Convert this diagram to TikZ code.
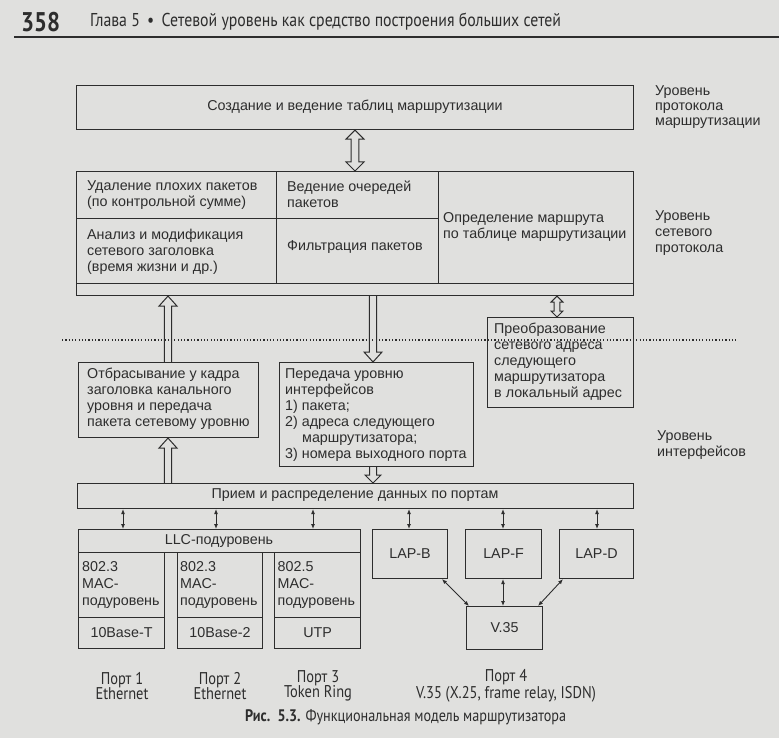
\documentclass[tikz,border=0pt]{standalone}
\usepackage{fontspec}
\setmainfont{Liberation Sans}
\newfontfamily\hdfont[FakeStretch=0.85]{PT Sans}
\usetikzlibrary{arrows.meta,calc}
\definecolor{ink}{RGB}{45,45,45}
\definecolor{paper}{RGB}{224,224,222}
\newcommand\dg{\fontsize{14.3}{16}\selectfont}
\newcommand\rectnode[5]{\node[box, minimum width={(#4-#2)*1pt}, minimum height={(#5-#3)*1pt}] (#1) at (#2,#3) {};}
\newcommand\hollowarrow[5]{%
 \draw[harrow] let \p1=#1, \p2=#2, \n1={sign(\y2-\y1)} in
   ({\x1-#3pt},\y1) -- ({\x1-#3pt},{\y2-\n1*#5pt}) -- ({\x1-#4pt},{\y2-\n1*#5pt}) -- (\x1,\y2) -- ({\x1+#4pt},{\y2-\n1*#5pt}) -- ({\x1+#3pt},{\y2-\n1*#5pt}) -- ({\x1+#3pt},\y1);}
\newcommand\hollowdbl[5]{%
 \draw[harrow] let \p1=#1, \p2=#2, \n1={sign(\y2-\y1)} in
   (\x1,\y1) -- ({\x1+#4pt},{\y1+\n1*#5pt}) -- ({\x1+#3pt},{\y1+\n1*#5pt}) -- ({\x1+#3pt},{\y2-\n1*#5pt}) -- ({\x1+#4pt},{\y2-\n1*#5pt}) -- (\x1,\y2) -- ({\x1-#4pt},{\y2-\n1*#5pt}) -- ({\x1-#3pt},{\y2-\n1*#5pt}) -- ({\x1-#3pt},{\y1+\n1*#5pt}) -- ({\x1-#4pt},{\y1+\n1*#5pt}) -- cycle;}
\tikzset{
  box/.style={draw=ink, line width=1.1pt, inner sep=0pt, anchor=north west},
  txt/.style={inner sep=0pt, font=\dg, text=ink, align=left, anchor=west},
  ctxt/.style={inner sep=0pt, font=\dg, text=ink, align=center, anchor=center},
  harrow/.style={draw=ink, line width=1.0pt, line join=miter},
  thinarr/.style={draw=ink, line width=0.9pt, {Latex[length=5pt,width=4pt]}-{Latex[length=5pt,width=4pt]}},
  dotline/.style={draw=ink, line width=1.2pt, dash pattern=on 1.2pt off 2.1pt},
  lbl/.style={inner sep=0pt, font=\hdfont\fontsize{17}{15.5}\selectfont, text=ink, align=center},
}
\begin{document}
\begin{tikzpicture}[x=1pt,y=-1pt]
\fill[paper] (0,0) rectangle (779,738);
\useasboundingbox (0,0) rectangle (779,738);
% header
\node[inner sep=0pt, anchor=west, text=ink, font=\hdfont\bfseries\fontsize{27}{27}\selectfont] (pg) at (21,22) {358};
\node[inner sep=0pt, anchor=west, text=ink, font=\hdfont\fontsize{18.6}{19}\selectfont] (hd) at (90,22) {Глава 5 \,\textbullet\, Сетевой уровень как средство построения больших сетей};
\draw[ink, line width=1.2pt] (14,37) -- (779,37);
% boxes
\rectnode{top}{76}{85}{633}{129}
\rectnode{net}{76}{171}{633}{295}
\rectnode{c11}{76}{171}{276}{218}
\rectnode{c12}{276}{171}{438}{218}
\rectnode{c21}{76}{218}{276}{283}
\rectnode{c22}{276}{218}{438}{283}
\rectnode{c3}{438}{171}{633}{283}
\rectnode{drop}{78}{362}{258}{437}
\rectnode{pass}{279}{362}{473}{466}
\rectnode{conv}{487}{317}{633}{407}
\rectnode{recv}{77}{483}{633}{508}
\rectnode{llc}{78}{529}{360}{552}
\rectnode{mac1}{78}{552}{164}{617}
\rectnode{phy1}{78}{617}{164}{648}
\rectnode{mac2}{177}{552}{262}{617}
\rectnode{phy2}{177}{617}{262}{648}
\rectnode{mac3}{274}{552}{360}{617}
\rectnode{phy3}{274}{617}{360}{648}
\rectnode{lapb}{372}{529}{447}{578}
\rectnode{lapf}{465}{529}{541}{578}
\rectnode{lapd}{559}{529}{633}{578}
\rectnode{v35}{466}{606}{542}{649}
% texts
\node[ctxt] (ttop) at (355,107) {Создание и ведение таблиц маршрутизации};
\node[txt] (t11) at (87,195) {Удаление плохих пакетов\\(по контрольной сумме)};
\node[txt] (t12) at (287,194) {Ведение очередей\\пакетов};
\node[txt] (t21) at (87,252) {Анализ и модификация\\сетевого заголовка\\(время жизни и др.)};
\node[txt] (t22) at (287,247) {Фильтрация пакетов};
\node[txt] (t3) at (443,227) {Определение маршрута\\по таблице маршрутизации};
\node[txt, font=\fontsize{14.3}{15.2}\selectfont] (l1) at (655,107) {Уровень\\протокола\\маршрутизации};
\node[txt, font=\fontsize{14.3}{16}\selectfont] (l2) at (655,233) {Уровень\\сетевого\\протокола};
\node[txt, font=\fontsize{14.3}{15.5}\selectfont] (l3) at (657,445) {Уровень\\интерфейсов};
\node[txt] (tdrop) at (87,399) {Отбрасывание у кадра\\заголовка канального\\уровня и передача\\пакета сетевому уровню};
\node[txt, font=\fontsize{14.3}{16}\selectfont] (tpass) at (285,415) {Передача уровню\\интерфейсов\\1) пакета;\\2) адреса следующего\\\hspace*{17pt}маршрутизатора;\\3) номера выходного порта};
\node[txt] (tconv) at (494,362) {Преобразование\\сетевого адреса\\следующего\\маршрутизатора\\в локальный адрес};
\node[ctxt] (trecv) at (355,495.5) {Прием и распределение данных по портам};
\node[ctxt] (tllc) at (219,540.5) {LLC-подуровень};
\node[txt, font=\fontsize{14.3}{16.8}\selectfont] (tm1) at (82,585) {802.3\\MAC-\\подуровень};
\node[txt, font=\fontsize{14.3}{16.8}\selectfont] (tm2) at (180,585) {802.3\\MAC-\\подуровень};
\node[txt, font=\fontsize{14.3}{16.8}\selectfont] (tm3) at (277.5,585) {802.5\\MAC-\\подуровень};
\node[ctxt] (tp1) at (phy1.center) {10Base-T};
\node[ctxt] (tp2) at (phy2.center) {10Base-2};
\node[ctxt] (tp3) at (phy3.center) {UTP};
\node[ctxt] (tlb) at (lapb.center) {LAP-B};
\node[ctxt] (tlf) at (lapf.center) {LAP-F};
\node[ctxt] (tld) at (lapd.center) {LAP-D};
\node[ctxt] (tv) at (v35.center) {V.35};
% port labels
\node[lbl] (p1) at (122,686) {Порт 1\\Ethernet};
\node[lbl] (p2) at (220,686) {Порт 2\\Ethernet};
\node[lbl] (p3) at (318,686) {Порт 3\\Token Ring};
\node[lbl] (p4) at (506,686) {Порт 4\\V.35 (X.25, frame relay, ISDN)};
% caption
\node[inner sep=0pt, anchor=west, text=ink, font=\hdfont\fontsize{16.7}{16.7}\selectfont] (cap) at (245,717) {\textbf{Рис.\ \ 5.3.} Функциональная модель маршрутизатора};
% dotted separator
\draw[dotline] (62,340) -- (738,340);
% arrow x positions
\coordinate (ax1) at (355,0);
\coordinate (ax2) at (168,0);
\coordinate (ax3) at (373,0);
\coordinate (ax4) at (557,0);
\coordinate (t1) at (123,0);
\coordinate (t2) at (216,0);
\coordinate (t3x) at (313,0);
\coordinate (t4) at (409,0);
\coordinate (t5) at (503,0);
\coordinate (t6) at (597,0);
\coordinate (d1) at (442,0);
\coordinate (d2) at (469,0);
\coordinate (d3) at (563,0);
\coordinate (d4) at (538,0);
% hollow arrows
\hollowdbl{(top.south -| ax1)}{(net.north -| ax1)}{3.8}{9}{9}
\hollowarrow{(drop.north -| ax2)}{(net.south -| ax2)}{3.7}{9}{10}
\hollowarrow{(recv.north -| ax2)}{(drop.south -| ax2)}{3.7}{9}{10}
\hollowarrow{(net.south -| ax3)}{(pass.north -| ax3)}{3.7}{9}{10}
\hollowarrow{(pass.south -| ax3)}{(recv.north -| ax3)}{3.5}{8}{8}
\hollowdbl{(net.south -| ax4)}{(conv.north -| ax4)}{2.8}{6}{6}
% thin arrows
\draw[thinarr] (recv.south -| t1) -- (llc.north -| t1);
\draw[thinarr] (recv.south -| t2) -- (llc.north -| t2);
\draw[thinarr] (recv.south -| t3x) -- (llc.north -| t3x);
\draw[thinarr] (recv.south -| t4) -- (lapb.north -| t4);
\draw[thinarr] (recv.south -| t5) -- (lapf.north -| t5);
\draw[thinarr] (recv.south -| t6) -- (lapd.north -| t6);
\draw[thinarr] (lapf.south -| t5) -- (v35.north -| t5);
\draw[thinarr] (lapb.south -| d1) -- (v35.north -| d2);
\draw[thinarr] (lapd.south -| d3) -- (v35.north -| d4);
\end{tikzpicture}
\end{document}
